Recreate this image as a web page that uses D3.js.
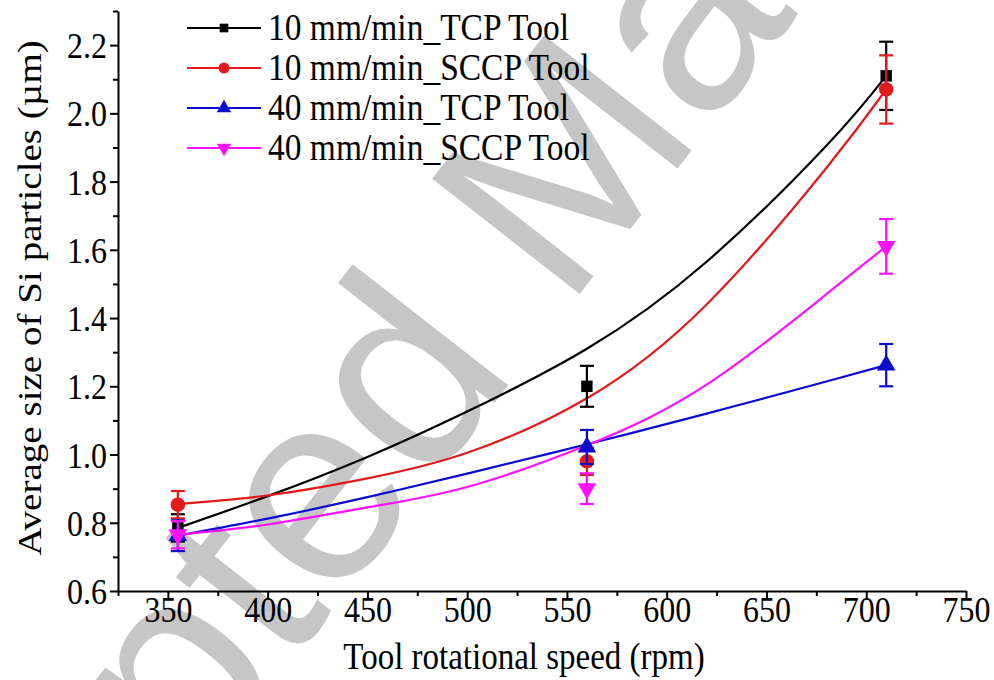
<!DOCTYPE html>
<html>
<head>
<meta charset="utf-8">
<script src="https://cdn.jsdelivr.net/npm/d3@7"></script>
<style>
  html, body { margin: 0; padding: 0; background: #fff; }
  svg { display: block; }
</style>
</head>
<body>
<svg id="chart" width="994" height="680"></svg>
<script>
// Measured speeds (rpm) and mean Si particle size (µm) with error bars
const speeds = [355, 560, 710];

const tcp10 = [0.785, 1.20, 2.11];
const tcp10Err = [0.04, 0.06, 0.10];
const sccp10 = [0.853, 0.98, 2.07];
const sccp10Err = [0.04, 0.04, 0.10];
const tcp40 = [0.762, 1.022, 1.262];
const tcp40Err = [0.045, 0.05, 0.062];
const sccp40 = [0.765, 0.90, 1.61];
const sccp40Err = [0.04, 0.045, 0.08];

// Trend curves through each series
const trendSpeeds = [355, 400, 450, 500, 560, 620, 680, 710];
const tcp10Trend = [0.785, 0.878, 0.993, 1.126, 1.31, 1.565, 1.905, 2.11];
const sccp10Trend = [0.855, 0.88, 0.93, 1.005, 1.165, 1.44, 1.84, 2.07];
const tcp40Trend = [0.762, 0.812, 0.875, 0.944, 1.03, 1.12, 1.214, 1.262];
const sccp40Trend = [0.765, 0.795, 0.845, 0.905, 1.027, 1.205, 1.47, 1.61];

const seriesNames = ["10 mm/min_TCP Tool", "10 mm/min_SCCP Tool", "40 mm/min_TCP Tool", "40 mm/min_SCCP Tool"];

const xTicks = [350, 400, 450, 500, 550, 600, 650, 700, 750];
const yTicks = [0.6, 0.8, 1.0, 1.2, 1.4, 1.6, 1.8, 2.0, 2.2];

const xTitle = "Tool rotational speed (rpm)";
const yTitle = "Average size of Si particles (µm)";
const watermark = "Accepted Manuscript";

const series = [
  { name: seriesNames[0], values: tcp10, err: tcp10Err, trend: tcp10Trend, color: "#000000", symbol: d3.symbolSquare, size: 130, legendSize: 75, rot: 0 },
  { name: seriesNames[1], values: sccp10, err: sccp10Err, trend: sccp10Trend, color: "#e3191c", symbol: d3.symbolCircle, size: 165, legendSize: 95, rot: 0 },
  { name: seriesNames[2], values: tcp40, err: tcp40Err, trend: tcp40Trend, color: "#0a0ad2", symbol: d3.symbolTriangle, size: 150, legendSize: 90, rot: 0 },
  { name: seriesNames[3], values: sccp40, err: sccp40Err, trend: sccp40Trend, color: "#ff10ff", symbol: d3.symbolTriangle, size: 150, legendSize: 90, rot: 180 }
];

const SERIF = "'Liberation Serif'";
const svg = d3.select("#chart");
const stretch = 1.15;

const x = d3.scaleLinear().domain([325, 750]).range([118, 966]);
const y = d3.scaleLinear().domain([0.6, 2.3]).range([591, 11]);

// Background watermark
svg.append("text")
  .attr("transform", "translate(603,264) rotate(-52)")
  .attr("text-anchor", "middle")
  .style("font-family", "'Liberation Sans'")
  .style("font-size", "272px")
  .style("fill", "#c6c6c6")
  .text(watermark);

const line = d3.line()
  .x((d, i) => x(trendSpeeds[i]))
  .y(d => y(d))
  .curve(d3.curveNatural);

// Trend curves
series.forEach(s => {
  svg.append("path")
    .attr("d", line(s.trend))
    .attr("fill", "none")
    .attr("stroke", s.color)
    .attr("stroke-width", 2.2);
});

// Error bars and markers
series.forEach(s => {
  const g = svg.append("g");
  s.values.forEach((v, i) => {
    const cx = x(speeds[i]);
    const top = y(v + s.err[i]);
    const bot = y(v - s.err[i]);
    g.append("line").attr("x1", cx).attr("x2", cx).attr("y1", top).attr("y2", bot)
      .attr("stroke", s.color).attr("stroke-width", 2.2);
    [top, bot].forEach(yy => {
      g.append("line").attr("x1", cx - 7).attr("x2", cx + 7).attr("y1", yy).attr("y2", yy)
        .attr("stroke", s.color).attr("stroke-width", 2.2);
    });
    g.append("path")
      .attr("d", d3.symbol().type(s.symbol).size(s.size)())
      .attr("transform", `translate(${cx},${y(v)}) rotate(${s.rot})`)
      .attr("fill", s.color);
  });
});

// Axes
const xMinor = d3.range(325, 751, 50);
const yMinor = d3.range(0.7, 2.31, 0.2);

const xAxis = svg.append("g").attr("transform", `translate(0,${y(0.6)})`)
  .call(d3.axisBottom(x).tickValues(xTicks).tickSize(9).tickSizeOuter(0).tickFormat(d3.format("d")));
svg.append("g").attr("transform", `translate(0,${y(0.6)})`)
  .call(d3.axisBottom(x).tickValues(xMinor).tickSize(5).tickSizeOuter(0).tickFormat(""))
  .call(g => g.select(".domain").remove());

const yAxis = svg.append("g").attr("transform", `translate(${x(325)},0)`)
  .call(d3.axisLeft(y).tickValues(yTicks).tickSize(8).tickSizeOuter(0).tickFormat(d3.format(".1f")));
svg.append("g").attr("transform", `translate(${x(325)},0)`)
  .call(d3.axisLeft(y).tickValues(yMinor).tickSize(5).tickSizeOuter(0).tickFormat(""))
  .call(g => g.select(".domain").remove());

svg.selectAll(".domain").attr("stroke-width", 2);
svg.selectAll(".tick line").attr("stroke-width", 2);

xAxis.selectAll("text")
  .attr("y", null).attr("dy", null)
  .attr("transform", `translate(0,31) scale(1,${stretch})`);

yAxis.selectAll("text")
  .attr("x", null).attr("dy", "0.34em")
  .attr("transform", `translate(-11,0) scale(1,${stretch})`);

svg.selectAll(".tick text")
  .style("font-family", SERIF)
  .style("font-size", "32px")
  .attr("fill", "#000");

// Axis titles
svg.append("text")
  .attr("transform", `translate(524,669) scale(1,${stretch})`)
  .attr("text-anchor", "middle")
  .style("font-family", SERIF)
  .style("font-size", "33px")
  .text(xTitle);

svg.append("text")
  .attr("transform", `translate(41,298) rotate(-90) scale(${stretch},1)`)
  .attr("text-anchor", "middle")
  .style("font-family", SERIF)
  .style("font-size", "34px")
  .text(yTitle);

// Legend
const legend = svg.append("g");
series.forEach((s, i) => {
  const ly = 28 + i * 40;
  legend.append("line").attr("x1", 187).attr("x2", 261).attr("y1", ly).attr("y2", ly)
    .attr("stroke", s.color).attr("stroke-width", 2.2);
  legend.append("path")
    .attr("d", d3.symbol().type(s.symbol).size(s.legendSize)())
    .attr("transform", `translate(224,${ly}) rotate(${s.rot})`)
    .attr("fill", s.color);
  legend.append("text")
    .attr("transform", `translate(268,${ly + 12}) scale(1,${stretch})`)
    .style("font-family", SERIF)
    .style("font-size", "33.5px")
    .text(s.name);
});
</script>
</body>
</html>
